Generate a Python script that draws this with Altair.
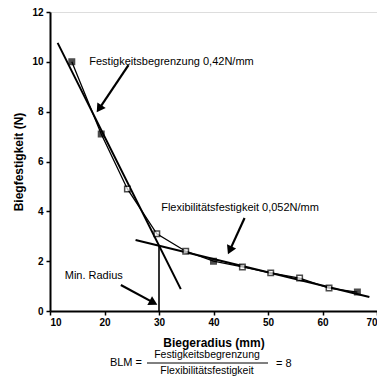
import altair as alt
import pandas as pd
import math

# measured points
radius = [14.0, 19.4, 24.2, 29.6, 34.9, 40.0, 45.3, 50.5, 55.8, 61.2, 66.4]
strength = [10.0, 7.1, 4.9, 3.1, 2.4, 2.0, 1.77, 1.53, 1.32, 0.92, 0.76]
filled = [True, True, False, False, False, True, False, False, False, False, True]

# fitted lines
steep_x = [11.4, 34.0]
steep_y = [10.76, 0.88]
flat_x = [25.7, 68.6]
flat_y = [2.85, 0.56]
minr_x = [30.0, 30.0]
minr_y = [0.0, 2.62]

# annotations
labels = ["Festigkeitsbegrenzung 0,42N/mm", "Flexibilitätsfestigkeit 0,052N/mm", "Min. Radius"]
label_x = [17.2, 30.4, 12.7]
label_y = [10.0, 4.13, 1.4]
arrow_x0 = [24.4, 45.7, 23.0]
arrow_y0 = [9.87, 3.73, 1.04]
arrow_x1 = [18.5, 42.6, 29.8]
arrow_y1 = [7.95, 2.25, 0.24]

W, H = 327, 299
XMIN, XMAX, YMIN, YMAX = 10, 70, 0, 12
pxx = W / (XMAX - XMIN)
pxy = H / (YMAX - YMIN)

FONT = "Liberation Sans"

xs = alt.Scale(domain=[XMIN, XMAX], nice=False, zero=False)
ys = alt.Scale(domain=[YMIN, YMAX], nice=False, zero=False)

pts = pd.DataFrame({"r": radius, "f": strength, "filled": filled})

xax = alt.Axis(values=list(range(10, 71, 5)), labelExpr="datum.value % 10 == 0 ? datum.label : ''",
               tickSize=4, tickWidth=1.5, domainWidth=2, domainColor="black", tickColor="black",
               labelFont=FONT, labelFontSize=10, labelFontWeight="bold", labelColor="black",
               labelPadding=2, grid=False, title="Biegeradius (mm)", titleFont=FONT,
               titleFontSize=12, titleFontWeight="bold", titleColor="black",
               titleX=W / 2, titleY=31, titleBaseline="middle")
yax = alt.Axis(values=list(range(0, 13)), labelExpr="datum.value % 2 == 0 ? datum.label : ''",
               tickSize=4, tickWidth=1.5, domainWidth=2, domainColor="black", tickColor="black",
               labelFont=FONT, labelFontSize=10, labelFontWeight="bold", labelColor="black",
               labelPadding=3, grid=False, title="Biegfestigkeit (N)", titleFont=FONT,
               titleFontSize=12, titleFontWeight="bold", titleColor="black",
               titleX=-32, titleY=H / 2, titleAngle=-90, titleBaseline="middle")

base_line = alt.Chart(pts).mark_line(color="black", strokeWidth=1.3).encode(
    x=alt.X("r:Q", scale=xs, axis=xax), y=alt.Y("f:Q", scale=ys, axis=yax))

squares = alt.Chart(pts).mark_point(shape="square", size=30, strokeWidth=1.5, color="black").encode(
    x=alt.X("r:Q", scale=xs), y=alt.Y("f:Q", scale=ys),
    fill=alt.condition("datum.filled", alt.value("black"), alt.value("white")))

def seg(xv, yv, sw):
    df = pd.DataFrame({"x": xv, "y": yv})
    return alt.Chart(df).mark_line(color="black", strokeWidth=sw).encode(
        x=alt.X("x:Q", scale=xs), y=alt.Y("y:Q", scale=ys))

steep = seg(steep_x, steep_y, 2)
flat = seg(flat_x, flat_y, 2)
minr = seg(minr_x, minr_y, 1.6)

# arrows
rows = []
heads = []
for i in range(3):
    dxp = (arrow_x1[i] - arrow_x0[i]) * pxx
    dyp = -(arrow_y1[i] - arrow_y0[i]) * pxy
    L = math.hypot(dxp, dyp)
    ux, uy = dxp / L, dyp / L
    ang = math.degrees(math.atan2(ux, -uy)) % 360
    back = 5
    hx = arrow_x1[i] - ux * back / pxx
    hy = arrow_y1[i] + uy * back / pxy
    rows.append({"id": i, "x0": arrow_x0[i], "y0": arrow_y0[i], "x1": hx, "y1": hy})
    heads.append({"x": hx, "y": hy, "a": ang})

arrow_df = pd.DataFrame(rows)
head_df = pd.DataFrame(heads)
arrow_lines = alt.Chart(arrow_df).mark_rule(color="black", strokeWidth=2.2).encode(
    x=alt.X("x0:Q", scale=xs), y=alt.Y("y0:Q", scale=ys), x2="x1:Q", y2="y1:Q")
arrow_heads = alt.Chart(head_df).mark_point(shape="triangle-up", size=100, filled=True,
                                            color="black", opacity=1).encode(
    x=alt.X("x:Q", scale=xs), y=alt.Y("y:Q", scale=ys), angle=alt.Angle("a:Q", scale=None))

lab_df = pd.DataFrame({"t": labels, "x": label_x, "y": label_y})
lab = alt.Chart(lab_df).mark_text(align="left", baseline="middle", font=FONT, fontSize=11,
                                  color="black").encode(
    x=alt.X("x:Q", scale=xs), y=alt.Y("y:Q", scale=ys), text="t:N")

one = alt.Data(values=[{}])
blm = alt.Chart(one).mark_text(align="right", baseline="middle", font=FONT, fontSize=11,
                               color="black").encode(x=alt.value(92), y=alt.value(351),
                                                     text=alt.value("BLM ="))
num = alt.Chart(one).mark_text(align="center", baseline="middle", font=FONT, fontSize=10.5,
                               color="black").encode(x=alt.value(157), y=alt.value(343),
                                                     text=alt.value("Festigkeitsbegrenzung"))
den = alt.Chart(one).mark_text(align="center", baseline="middle", font=FONT, fontSize=10.5,
                               color="black").encode(x=alt.value(157), y=alt.value(359),
                                                     text=alt.value("Flexibilitätsfestigkeit"))
frac = alt.Chart(one).mark_rule(color="black", strokeWidth=1).encode(
    x=alt.value(97), x2=alt.value(218), y=alt.value(351))
eq = alt.Chart(one).mark_text(align="left", baseline="middle", font=FONT, fontSize=11,
                              color="black").encode(x=alt.value(226), y=alt.value(352),
                                                    text=alt.value("= 8"))

chart = alt.layer(base_line, steep, flat, minr, squares, arrow_lines, arrow_heads, lab,
                  blm, num, den, frac, eq).properties(
    width=W, height=H,
    autosize=alt.AutoSizeParams(type="none"),
    padding={"left": 42, "top": 4, "right": 0, "bottom": 68},
).configure_view(stroke="black", strokeWidth=2).configure(background="white")

chart.save("out.html", embed_options={"renderer": "svg", "actions": False})
